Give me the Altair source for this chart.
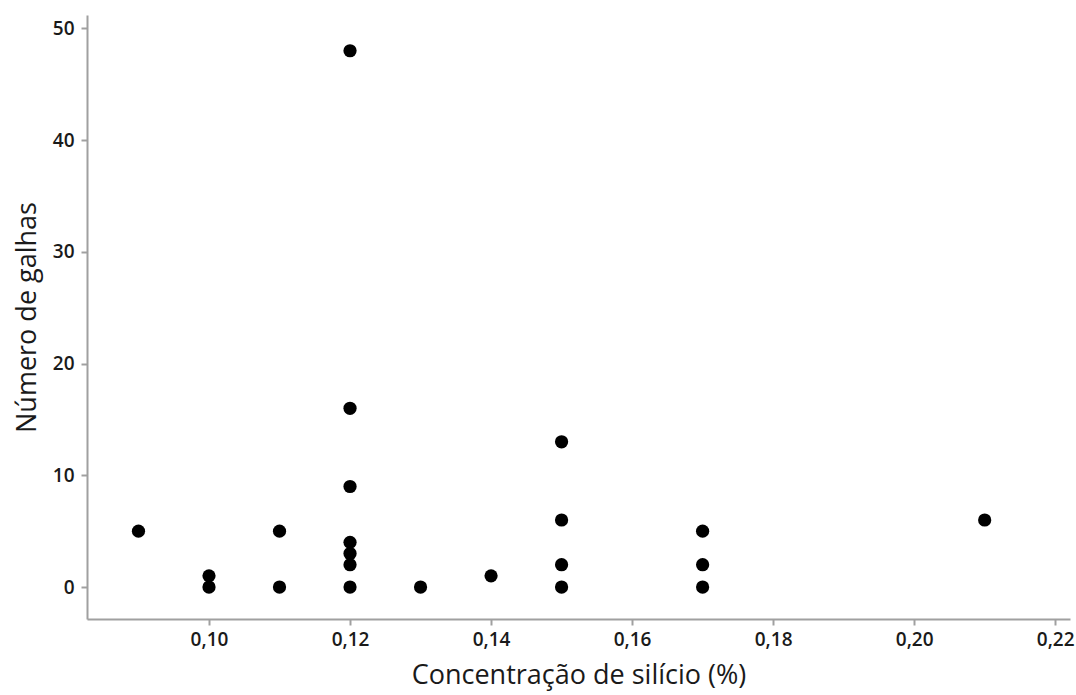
import altair as alt
import pandas as pd

conc = [0.09, 0.10, 0.10, 0.11, 0.11, 0.12, 0.12, 0.12, 0.12, 0.12, 0.12, 0.12,
        0.13, 0.14, 0.15, 0.15, 0.15, 0.15, 0.17, 0.17, 0.17, 0.21]
galhas = [5, 0, 1, 0, 5, 0, 2, 3, 4, 9, 16, 48,
          0, 1, 0, 2, 6, 13, 0, 2, 5, 6]

df = pd.DataFrame({"conc": conc, "galhas": galhas})

font = "Open Sans"

chart = alt.Chart(df).mark_circle(size=175, opacity=1, color="black").encode(
    x=alt.X("conc:Q",
            scale=alt.Scale(domain=[0.0827, 0.2221], nice=False, zero=False),
            axis=alt.Axis(values=[0.10, 0.12, 0.14, 0.16, 0.18, 0.20, 0.22],
                          labelExpr="replace(format(datum.value, '.2f'), '.', ',')",
                          title="Concentração de silício (%)",
                          titlePadding=13, labelPadding=5)),
    y=alt.Y("galhas:Q",
            scale=alt.Scale(domain=[-2.86, 51.2], nice=False, zero=False),
            axis=alt.Axis(values=[0, 10, 20, 30, 40, 50], format="d",
                          title="Número de galhas", titlePadding=11, labelPadding=7)),
).properties(
    width=983, height=604,
    autosize=alt.AutoSizeParams(type="none"),
    padding={"left": 87, "top": 15, "right": 6, "bottom": 76},
).configure_view(stroke=None).configure_axis(
    grid=False,
    domainColor="#a0a0a0", domainWidth=2,
    tickColor="#a0a0a0", tickWidth=2, tickSize=6,
    labelFont=font, labelFontSize=19, labelFontWeight=600, labelColor="#1a1a1a",
    titleFont=font, titleFontSize=27, titleFontWeight="normal", titleColor="#1a1a1a",
)

chart.save("out.html", embed_options={"renderer": "svg", "actions": False})
